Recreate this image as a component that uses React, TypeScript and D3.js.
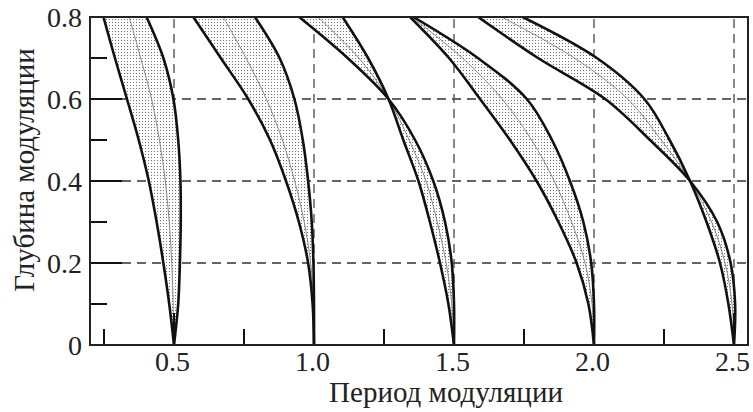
import React from "react";
import * as d3 from "d3";

// y levels (modulation depth) shared by all tongue boundary arrays
const depthLevels = [0, 0.1, 0.2, 0.3, 0.4, 0.5, 0.6, 0.7, 0.8];

// Tongue 1 (period 0.5)
const t1A = [0.5, 0.483, 0.462, 0.438, 0.41, 0.374, 0.332, 0.289, 0.248];
const t1Mid = [0.5, 0.497, 0.492, 0.483, 0.469, 0.448, 0.42, 0.381, 0.34];
const t1B = [0.5, 0.515, 0.521, 0.524, 0.523, 0.515, 0.498, 0.462, 0.402];
// Tongue 2 (period 1.0)
const t2A = [1.0, 0.995, 0.979, 0.946, 0.9, 0.843, 0.765, 0.667, 0.569];
const t2Mid = [1.0, 0.998, 0.988, 0.965, 0.931, 0.887, 0.83, 0.757, 0.676];
const t2B = [1.0, 1.0, 0.998, 0.992, 0.979, 0.96, 0.93, 0.877, 0.789];
// Tongue 3 (period 1.5) — boundaries cross at 0.6
const t3A = [1.5, 1.5, 1.492, 1.468, 1.426, 1.361, 1.266, 1.12, 0.947];
const t3Mid = [1.5, 1.492, 1.472, 1.44, 1.4, 1.34, 1.266, 1.16, 1.014];
const t3B = [1.5, 1.48, 1.45, 1.414, 1.373, 1.319, 1.266, 1.193, 1.102];
// Tongue 4 (period 2.0)
const t4A = [2.0, 1.98, 1.938, 1.873, 1.795, 1.7, 1.593, 1.482, 1.343];
const t4Mid = [2.0, 1.993, 1.968, 1.92, 1.858, 1.777, 1.672, 1.53, 1.349];
const t4B = [2.0, 2.0, 1.99, 1.962, 1.914, 1.85, 1.76, 1.585, 1.355];
// Tongue 5 (period 2.5) — boundaries cross at 0.4
const t5A = [2.5, 2.504, 2.488, 2.44, 2.343, 2.2, 2.04, 1.8, 1.586];
const t5Mid = [2.5, 2.493, 2.468, 2.42, 2.343, 2.24, 2.12, 1.93, 1.67];
const t5B = [2.5, 2.48, 2.45, 2.402, 2.343, 2.27, 2.18, 2.01, 1.745];

const xMajorTicks = [0.5, 1.0, 1.5, 2.0, 2.5];
const xMinorTicks = [0.25, 0.75, 1.25, 1.75, 2.25];
const yMajorTicks = [0, 0.2, 0.4, 0.6, 0.8];
const yMinorTicks = [0.1, 0.3, 0.5, 0.7];
const xLabel = "Период модуляции";
const yLabel = "Глубина модуляции";

const tongues = [
  { a: t1A, m: t1Mid, b: t1B },
  { a: t2A, m: t2Mid, b: t2B },
  { a: t3A, m: t3Mid, b: t3B },
  { a: t4A, m: t4Mid, b: t4B },
  { a: t5A, m: t5Mid, b: t5B },
];

const W = 753;
const H = 412;
const L = 90, R = 748, T = 17, B = 345;
const textStyle = { fontFamily: "Liberation Serif" };

export default function App() {
  const x = d3.scaleLinear().domain([0.2, 2.55]).range([L, R]);
  const y = d3.scaleLinear().domain([0, 0.8]).range([B, T]);
  const curve = d3.curveCatmullRom.alpha(0.5);

  const lineOf = (xs: number[]) =>
    d3
      .line<number>()
      .curve(curve)
      .x((_, i) => x(xs[i]))
      .y((d) => y(d))(depthLevels) as string;

  const areaOf = (a: number[], b: number[]) =>
    d3
      .area<number>()
      .curve(curve)
      .y((d) => y(d))
      .x0((_, i) => x(a[i]))
      .x1((_, i) => x(b[i]))(depthLevels) as string;

  return (
    <svg
      width={W}
      height={H}
      style={{ position: "absolute", left: 0, top: 0, background: "#fff" }}
    >
      <defs>
        <pattern id="dots" width="3" height="3" patternUnits="userSpaceOnUse">
          <rect width="3" height="3" fill="#fff" />
          <rect x="1" y="1" width="1" height="1" fill="#6f6f6f" />
        </pattern>
        <clipPath id="plot">
          <rect x={L} y={T} width={R - L} height={B - T} />
        </clipPath>
      </defs>

      {/* gridlines */}
      {yMajorTicks
        .filter((t) => t > 0 && t < 0.8)
        .map((t) => (
          <line
            key={"gy" + t}
            x1={L + 32}
            x2={R}
            y1={y(t)}
            y2={y(t)}
            stroke="#333"
            strokeWidth={1.4}
            strokeDasharray="9,6"
          />
        ))}
      {xMajorTicks.map((t) => (
        <line
          key={"gx" + t}
          x1={x(t)}
          x2={x(t)}
          y1={B - 32}
          y2={T}
          stroke="#555"
          strokeWidth={1.4}
          strokeDasharray="9,6"
        />
      ))}

      {/* tongues */}
      <g clipPath="url(#plot)">
        {tongues.map((tg, i) => (
          <g key={"tg" + i}>
            <path d={areaOf(tg.a, tg.b)} fill="url(#dots)" stroke="none" />
            <path d={lineOf(tg.m)} fill="none" stroke="#888" strokeWidth={1} />
            <path d={lineOf(tg.a)} fill="none" stroke="#111" strokeWidth={2.6} />
            <path d={lineOf(tg.b)} fill="none" stroke="#111" strokeWidth={2.6} />
          </g>
        ))}
      </g>

      {/* ticks */}
      {yMajorTicks
        .filter((t) => t > 0 && t < 0.8)
        .map((t) => (
          <line key={"ty" + t} x1={L} x2={L + 32} y1={y(t)} y2={y(t)} stroke="#111" strokeWidth={2} />
        ))}
      {yMinorTicks.map((t) => (
        <line key={"tym" + t} x1={L} x2={L + 17} y1={y(t)} y2={y(t)} stroke="#111" strokeWidth={2} />
      ))}
      {xMajorTicks.map((t) => (
        <line key={"tx" + t} x1={x(t)} x2={x(t)} y1={B} y2={B - 32} stroke="#111" strokeWidth={2} />
      ))}
      {xMinorTicks.map((t) => (
        <line key={"txm" + t} x1={x(t)} x2={x(t)} y1={B} y2={B - 16} stroke="#111" strokeWidth={2} />
      ))}

      {/* frame */}
      <rect x={L} y={T} width={R - L} height={B - T} fill="none" stroke="#222" strokeWidth={2} />

      {/* tick labels */}
      {xMajorTicks.map((t) => (
        <text key={"lx" + t} x={x(t) - 1.5} y={371} textAnchor="middle" fontSize={28} fill="#222" style={textStyle}>
          {d3.format(".1f")(t)}
        </text>
      ))}
      {yMajorTicks.map((t) => (
        <text
          key={"ly" + t}
          x={82}
          y={y(t) + 10}
          textAnchor="end"
          fontSize={28}
          fill="#222"
          style={textStyle}
        >
          {t === 0 ? "0" : d3.format(".1f")(t)}
        </text>
      ))}

      {/* axis titles */}
      <text x={446} y={402} textAnchor="middle" fontSize={29} fill="#222" style={textStyle}>
        {xLabel}
      </text>
      <text
        transform={`translate(34, 170) rotate(-90)`}
        textAnchor="middle"
        fontSize={29}
        fill="#222"
        style={textStyle}
      >
        {yLabel}
      </text>
    </svg>
  );
}
